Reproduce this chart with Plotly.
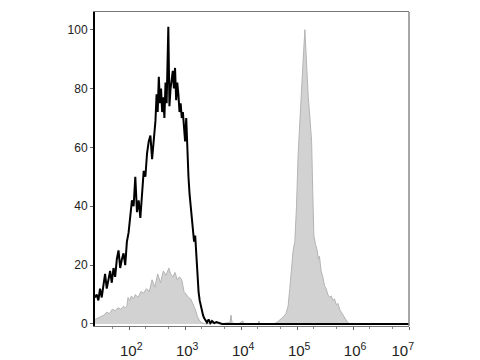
import plotly.graph_objects as go

# Black open histogram: log10 intensity exponents and counts
black_exp = [1.39, 1.42, 1.45, 1.48, 1.51, 1.54, 1.57, 1.60, 1.63, 1.66, 1.69, 1.72, 1.75, 1.78,
             1.81, 1.84, 1.87, 1.90, 1.93, 1.96, 1.99, 2.02, 2.05, 2.08, 2.11, 2.14, 2.17, 2.20,
             2.23, 2.26, 2.29, 2.32, 2.35, 2.38, 2.41, 2.44, 2.47, 2.49, 2.51, 2.53, 2.55, 2.57,
             2.59, 2.61, 2.63, 2.65, 2.67, 2.70, 2.72, 2.74, 2.76, 2.78, 2.80, 2.82, 2.84, 2.86,
             2.88, 2.90, 2.92, 2.94, 2.96, 2.98, 3.00, 3.02, 3.04, 3.06, 3.08, 3.10, 3.12, 3.14,
             3.16, 3.18, 3.20, 3.22, 3.24, 3.26, 3.28, 3.30, 3.32, 3.34, 3.36, 3.39, 3.42, 3.45,
             3.48, 3.52, 3.56, 3.61, 3.66, 7.00]
black_cnt = [9, 10, 8, 12, 9, 14, 17, 12, 15, 18, 14, 19, 16, 22,
             25, 19, 22, 24, 20, 28, 31, 38, 42, 40, 50, 38, 42, 36,
             46, 52, 50, 58, 62, 64, 56, 62, 69, 78, 72, 84, 75, 80,
             72, 77, 70, 82, 75, 101, 74, 80, 84, 86, 80, 87, 76, 82,
             78, 72, 75, 70, 72, 66, 62, 70, 58, 50, 44, 40, 36, 33,
             28, 30, 22, 18, 11, 8, 6, 4, 3, 2, 1.5, 0.5, 1.5, 0.3,
             1, 0.3, 0.6, 0.2, 0, 0]

# Gray filled histogram
gray_exp = [1.39, 1.45, 1.50, 1.55, 1.60, 1.65, 1.70, 1.75, 1.80, 1.85, 1.90, 1.93, 1.96, 1.98,
            2.01, 2.04, 2.08, 2.11, 2.16, 2.21, 2.26, 2.31, 2.36, 2.41, 2.46, 2.51, 2.56, 2.61,
            2.66, 2.71, 2.74, 2.78, 2.82, 2.86, 2.90, 2.94, 2.98, 3.02, 3.06, 3.10, 3.14, 3.18,
            3.22, 3.26, 3.31, 3.36, 3.55, 3.62, 3.80, 3.82, 3.84, 3.95, 4.03, 4.05, 4.30, 4.32,
            4.34, 4.58, 4.64, 4.70, 4.76, 4.80, 4.84, 4.87, 4.90, 4.93, 4.96, 4.99, 5.02, 5.05,
            5.08, 5.11, 5.14, 5.17, 5.20, 5.23, 5.26, 5.28, 5.30, 5.33, 5.36, 5.38, 5.40, 5.43,
            5.46, 5.49, 5.52, 5.55, 5.58, 5.61, 5.64, 5.67, 5.70, 5.73, 5.76, 5.79, 5.82, 5.86,
            5.90, 5.94, 7.00]
gray_cnt = [1.5, 2, 2.5, 3, 4, 3.5, 5, 4.5, 5.5, 5, 6, 5.5, 6, 9,
            8, 9.5, 8.5, 10, 9, 11, 10.5, 12, 11, 15, 12.5, 17, 14, 18,
            16.5, 19, 17, 16, 17.5, 15, 16, 15, 11, 10, 9, 8.5, 7, 5,
            2.5, 1, 0.3, 0, 0.3, 0, 0.5, 3, 0.3, 0, 1, 0, 0, 1,
            0, 0, 0.5, 1.4, 2.5, 3.5, 6, 12, 20, 25, 28, 40, 58, 70,
            80, 90, 100, 88, 77, 70, 62, 45, 30, 27, 25, 22, 23, 18,
            16, 13, 12, 10, 9, 9.5, 8, 8.5, 6.5, 7, 5, 4, 3, 1.5,
            0.6, 0, 0]

x_tick_exp = [2, 3, 4, 5, 6, 7]
x_tick_text = ["\u00a010<sup>2</sup>", "\u00a010<sup>3</sup>", "\u00a010<sup>4</sup>",
               "\u00a010<sup>5</sup>", "\u00a010<sup>6</sup>", "10<sup>7</sup>\u00a0\u00a0\u00a0"]
y_ticks = [0, 20, 40, 60, 80, 100]

fig = go.Figure()
fig.add_trace(go.Scatter(
    x=[10 ** e for e in gray_exp], y=gray_cnt, mode="lines", fill="tozeroy",
    fillcolor="#d2d2d2", line=dict(color="#b4b4b4", width=1), hoverinfo="skip"))
fig.add_trace(go.Scatter(
    x=[10 ** e for e in black_exp], y=black_cnt, mode="lines",
    line=dict(color="black", width=2), hoverinfo="skip"))

fig.update_layout(
    width=480, height=360, showlegend=False,
    margin=dict(l=95, r=71, t=12, b=34),
    paper_bgcolor="white", plot_bgcolor="white",
    font=dict(family="Liberation Sans, Arial, sans-serif", color="#222"),
    xaxis=dict(type="log", range=[1.39, 7.0], showgrid=False, zeroline=False,
               automargin=False,
               tickvals=[10 ** e for e in x_tick_exp], ticktext=x_tick_text,
               tickfont=dict(size=15), ticks="outside", ticklen=3, tickcolor="#666",
               showline=True, linecolor="#777", linewidth=1, mirror=True,
               ticklabelstandoff=8,
               minor=dict(ticks="outside", ticklen=2, tickcolor="#888", showgrid=False)),
    yaxis=dict(range=[-0.7, 106], showgrid=False, zeroline=False, automargin=False,
               tickvals=y_ticks, ticks="outside", ticklen=3, tickcolor="#666",
               tickfont=dict(size=12), showline=True, linecolor="black", linewidth=2),
    shapes=[dict(type="line", xref="paper", yref="paper", x0=1, x1=1, y0=0, y1=1,
                 line=dict(color="#888", width=1.5))],
)

fig.write_html("out.html")
